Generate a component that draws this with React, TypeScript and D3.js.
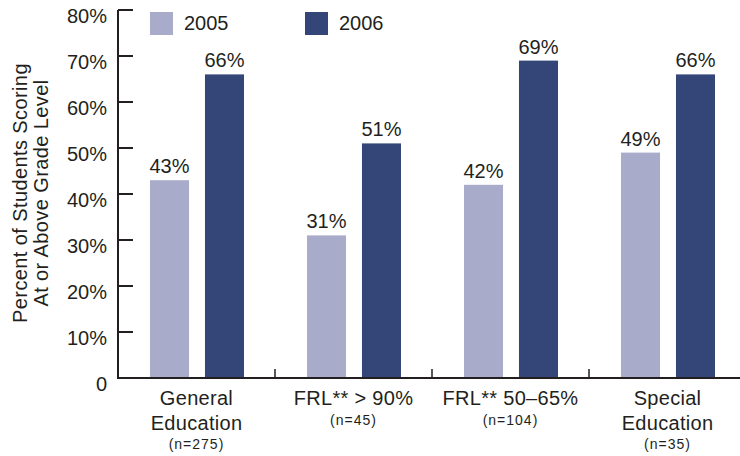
import React from "react";
import * as d3 from "d3";

// chart data
const categories = ["General Education", "FRL** > 90%", "FRL** 50–65%", "Special Education"];
const categoryLines = [["General", "Education"], ["FRL** > 90%"], ["FRL** 50–65%"], ["Special", "Education"]];
const sampleSizes = ["(n=275)", "(n=45)", "(n=104)", "(n=35)"];
const years = ["2005", "2006"];
const values2005 = [43, 31, 42, 49];
const values2006 = [66, 51, 69, 66];
const yTicks = [0, 10, 20, 30, 40, 50, 60, 70, 80];

const colors: Record<string, string> = { "2005": "#a8abc9", "2006": "#344677" };
const ink = "#231f20";
const font = "'Liberation Sans', Arial, sans-serif";

const App = () => {
  const width = 740;
  const height = 456;
  const left = 118;
  const baseY = 378;

  const x = d3.scaleBand<string>().domain(categories).range([left, 746]).padding(0);
  const xi = d3.scaleBand<string>().domain(years).range([32, 126]).paddingInner(0.29).paddingOuter(0);
  const y = d3.scaleLinear().domain([0, 80]).range([baseY, 10]);

  const series = [values2005, values2006];

  return (
    <svg width={width} height={height} style={{ position: "absolute", left: 0, top: 0, fontFamily: font }}>
      {/* y axis title */}
      <g transform={`translate(0, 193) rotate(-90)`} fill={ink} fontSize={20} letterSpacing={0.4} textAnchor="middle">
        <text x={0} y={27}>Percent of Students Scoring</text>
        <text x={0} y={48}>At or Above Grade Level</text>
      </g>

      {/* y axis */}
      <line x1={left} x2={left} y1={y(80)} y2={baseY} stroke={ink} strokeWidth={2} />
      {yTicks.map((t) => (
        <g key={t}>
          {t > 0 && <line x1={left} x2={left + 15} y1={y(t)} y2={y(t)} stroke={ink} strokeWidth={2} />}
          <text x={107} y={y(t) + 13} textAnchor="end" fontSize={20} fill={ink}>
            {t === 0 ? "0" : `${t}%`}
          </text>
        </g>
      ))}

      {/* bars */}
      {categories.map((c, i) => (
        <g key={c} transform={`translate(${x(c)},0)`}>
          {years.map((yr, j) => {
            const v = series[j][i];
            const bx = xi(yr) as number;
            return (
              <g key={yr}>
                <rect x={bx} y={y(v)} width={xi.bandwidth()} height={baseY - y(v)} fill={colors[yr]} />
                <text x={bx + xi.bandwidth() / 2} y={y(v) - 7} textAnchor="middle" fontSize={20} fill={ink}>
                  {v}%
                </text>
              </g>
            );
          })}
        </g>
      ))}

      {/* x axis */}
      <line x1={left - 1} x2={width} y1={baseY} y2={baseY} stroke={ink} strokeWidth={2} />
      {categories.slice(1).map((c) => (
        <line key={c} x1={x(c)} x2={x(c)} y1={baseY - 9} y2={baseY} stroke={ink} strokeWidth={1.5} />
      ))}

      {/* category labels */}
      {categories.map((c, i) => {
        const cx = (x(c) as number) + x.bandwidth() / 2;
        const lines = categoryLines[i];
        return (
          <g key={c} textAnchor="middle" fill={ink}>
            {lines.map((l, k) => (
              <text key={k} x={cx} y={405 + k * 25} fontSize={20} letterSpacing={0.3}>
                {l}
              </text>
            ))}
            <text x={cx} y={lines.length > 1 ? 449 : 425} fontSize={14} letterSpacing={1}>
              {sampleSizes[i]}
            </text>
          </g>
        );
      })}

      {/* legend */}
      {years.map((yr, j) => (
        <g key={yr} transform={`translate(${150 + j * 155},12)`}>
          <rect width={23} height={23} fill={colors[yr]} />
          <text x={34} y={18} fontSize={20} fill={ink}>
            {yr}
          </text>
        </g>
      ))}
    </svg>
  );
};

export default App;
